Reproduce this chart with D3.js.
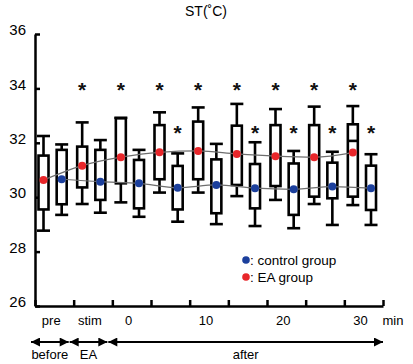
<!DOCTYPE html>
<html>
<head>
<meta charset="utf-8">
<script src="https://cdn.jsdelivr.net/npm/d3@7"></script>
<style>
  body { margin: 0; background: #fff; }
  text { font-family: "Liberation Sans", Arial, sans-serif; }
</style>
</head>
<body>
<div id="container"></div>
<script>
// data
const categories = ["pre", "stim", "0", "5", "10", "15", "20", "25", "30"];
const tickLabels = ["pre", "stim", "0", "", "10", "", "20", "", "30"];

// EA group (red)
const eaMean   = [30.63, 31.16, 31.47, 31.65, 31.70, 31.59, 31.51, 31.47, 31.64];
const eaQ1     = [29.55, 30.36, 30.51, 30.66, 30.66, 30.45, 30.41, 30.02, 30.02];
const eaQ3     = [31.53, 31.86, 32.90, 32.65, 32.78, 32.63, 32.65, 32.65, 32.68];
const eaLow    = [28.77, 29.75, 29.81, 30.17, 30.17, 30.04, 29.90, 29.75, 29.71];
const eaHigh   = [32.25, 32.75, 32.92, 33.12, 33.30, 33.43, 33.24, 33.33, 33.35];
const eaMedian = [null, null, null, null, null, null, null, null, 32.07];
const eaStar   = [false, true, true, true, true, true, true, true, true];

// control group (blue)
const ctrlMean = [30.66, 30.57, 30.51, 30.35, 30.45, 30.33, 30.29, 30.39, 30.33];
const ctrlQ1   = [29.74, 29.90, 29.59, 29.55, 29.41, 29.59, 29.35, 29.96, 29.53];
const ctrlQ3   = [31.74, 31.74, 31.37, 31.15, 31.39, 31.22, 31.24, 31.27, 31.16];
const ctrlLow  = [29.35, 29.43, 29.28, 29.10, 29.01, 28.94, 28.86, 28.98, 28.98];
const ctrlHigh = [31.94, 32.10, 31.74, 31.61, 31.96, 32.02, 31.70, 31.67, 31.58];
const ctrlStar = [false, false, false, true, false, true, true, true, true];

const yTicks = [26, 28, 30, 32, 34, 36];
const phaseLabels = ["before", "EA", "after"];
const phaseFrom = ["pre", "stim", "0"];
const phaseTo = ["pre", "stim", "30"];

const width = 413, height = 364;
const margin = { top: 34, bottom: 58, left: 35, right: 30 };
const red = "#e8262a", blue = "#1b3f9c";

const groups = [
  { key: "EA", color: red, mean: eaMean, q1: eaQ1, q3: eaQ3, low: eaLow, high: eaHigh, median: eaMedian, star: eaStar, starAt: 34.15 },
  { key: "control", color: blue, mean: ctrlMean, q1: ctrlQ1, q3: ctrlQ3, low: ctrlLow, high: ctrlHigh, median: null, star: ctrlStar, starAt: 32.6 }
];

const svg = d3.select("#container").append("svg")
  .attr("width", width).attr("height", height);

const x = d3.scaleBand().domain(categories)
  .range([margin.left, width - margin.right]).padding(0);
const bw = x.bandwidth();
const sub = d3.scalePoint().domain(["EA", "control"]).range([bw * 0.22, bw * 0.69]);
const y = d3.scaleLinear().domain([26, 36]).range([height - margin.bottom, margin.top]);

// title
svg.append("text").attr("x", 206).attr("y", 16)
  .attr("text-anchor", "middle").style("font-size", "14px")
  .text("ST(˚C)");

// y axis, ticks pointing inward
const yAxis = svg.append("g").attr("transform", `translate(${margin.left},0)`)
  .call(d3.axisLeft(y).tickValues(yTicks).tickSize(-5).tickSizeOuter(0).tickPadding(9));
yAxis.selectAll("path, line").attr("stroke", "#000").attr("stroke-width", 2.5);
yAxis.selectAll("text").style("font-size", "15px").attr("dy", "0.05em").attr("fill", "#000");

// x axis with ticks at band edges pointing up
const xi = d3.scaleLinear().domain([0, categories.length]).range(x.range());
const xAxis = svg.append("g").attr("transform", `translate(0,${y(26)})`)
  .call(d3.axisTop(xi).tickValues(d3.range(categories.length + 1)).tickFormat("").tickSize(6).tickSizeOuter(0));
xAxis.selectAll("path, line").attr("stroke", "#000").attr("stroke-width", 2.5);

svg.selectAll("text.xlab").data(categories).join("text")
  .attr("class", "xlab")
  .attr("x", d => x(d) + bw * 0.42)
  .attr("y", 325)
  .attr("text-anchor", "middle")
  .style("font-size", "13px")
  .text((d, i) => tickLabels[i]);
svg.append("text").attr("x", 393).attr("y", 325).attr("text-anchor", "middle")
  .style("font-size", "13px").text("min");

// boxes
groups.forEach(g => {
  const bg = svg.append("g");
  categories.forEach((c, i) => {
    const cx = x(c) + sub(g.key);
    bg.append("line").attr("x1", cx).attr("x2", cx)
      .attr("y1", y(g.high[i])).attr("y2", y(g.low[i]))
      .attr("stroke", "#000").attr("stroke-width", 2.6);
    [g.high[i], g.low[i]].forEach(v => {
      bg.append("line").attr("x1", cx - 6.5).attr("x2", cx + 6.5)
        .attr("y1", y(v)).attr("y2", y(v))
        .attr("stroke", "#000").attr("stroke-width", 2.6);
    });
    bg.append("rect").attr("x", cx - 5).attr("width", 10)
      .attr("y", y(g.q3[i])).attr("height", y(g.q1[i]) - y(g.q3[i]))
      .attr("fill", "#fff").attr("stroke", "#000").attr("stroke-width", 2.6);
    if (g.median && g.median[i] != null) {
      bg.append("line").attr("x1", cx - 5).attr("x2", cx + 5)
        .attr("y1", y(g.median[i])).attr("y2", y(g.median[i]))
        .attr("stroke", "#000").attr("stroke-width", 2.6);
    }
  });
});

// trend lines
const line = d3.line().curve(d3.curveMonotoneX);
groups.forEach(g => {
  svg.append("path")
    .attr("d", line(categories.map((c, i) => [x(c) + sub(g.key), y(g.mean[i])])))
    .attr("fill", "none").attr("stroke", "#6e6e6e").attr("stroke-width", 1.2);
});

// means and stars
groups.forEach(g => {
  svg.selectAll(null).data(categories).join("circle")
    .attr("cx", d => x(d) + sub(g.key))
    .attr("cy", (d, i) => y(g.mean[i]))
    .attr("r", 4).attr("fill", g.color);
  svg.selectAll(null).data(categories.filter((c, i) => g.star[i])).join("text")
    .attr("x", d => x(d) + sub(g.key))
    .attr("y", y(g.starAt))
    .attr("dy", "0.62em")
    .attr("text-anchor", "middle")
    .style("font-size", "21px").style("font-weight", "bold").attr("fill", "#111")
    .text("*");
});

// legend
const legend = [["control group", blue], ["EA group", red]];
legend.forEach(([label, col], i) => {
  svg.append("circle").attr("cx", 246).attr("cy", 260 + i * 17).attr("r", 3.8).attr("fill", col);
  svg.append("text").attr("x", 250).attr("y", 265 + i * 17)
    .style("font-size", "13.5px").text(": " + label);
});

// phase arrows
const defs = svg.append("defs");
defs.append("marker").attr("id", "ah")
  .attr("viewBox", "0 0 10 10").attr("refX", 10).attr("refY", 5)
  .attr("markerWidth", 5).attr("markerHeight", 4.5).attr("markerUnits", "strokeWidth")
  .attr("orient", "auto-start-reverse")
  .append("path").attr("d", "M0,0L10,5L0,10Z").attr("fill", "#000");
phaseLabels.forEach((lab, i) => {
  const x0 = x(phaseFrom[i]) - 4;
  const x1 = x(phaseTo[i]) + bw - (i === phaseLabels.length - 1 ? 0 : 5);
  svg.append("line").attr("x1", x0).attr("x2", x1).attr("y1", 342).attr("y2", 342)
    .attr("stroke", "#000").attr("stroke-width", 2)
    .attr("marker-start", "url(#ah)").attr("marker-end", "url(#ah)");
  svg.append("text").attr("x", (x0 + x1) / 2).attr("y", 359)
    .attr("text-anchor", "middle").style("font-size", "13px").text(lab);
});
</script>
</body>
</html>
